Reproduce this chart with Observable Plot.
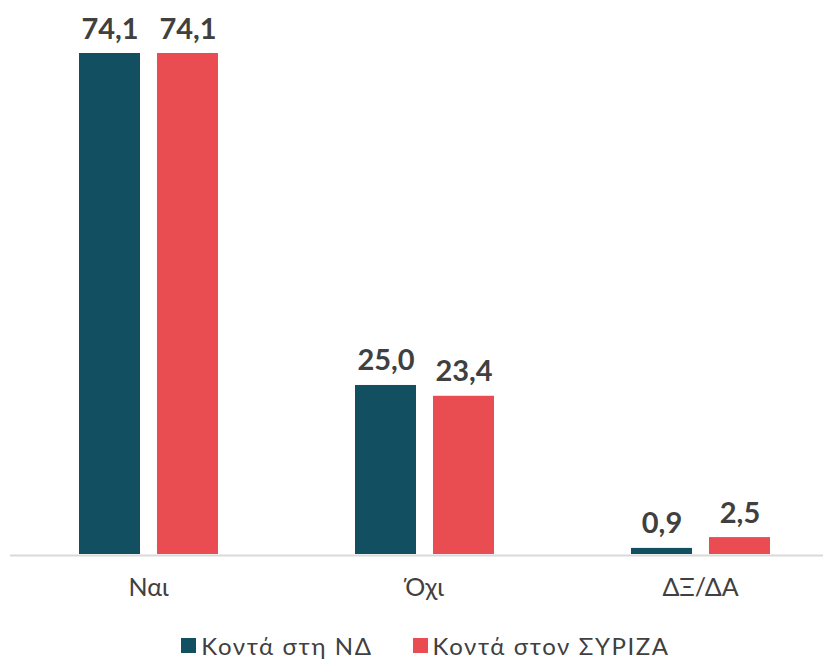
<!DOCTYPE html>
<html>
<head>
<meta charset="utf-8">
<script src="https://cdn.jsdelivr.net/npm/d3@7"></script>
<script src="https://cdn.jsdelivr.net/npm/@observablehq/plot@0.6"></script>
<style>
  body { margin: 0; background: #fff; font-family: Lato, "Open Sans", sans-serif; }
  #legend { display: flex; justify-content: center; align-items: center; gap: 40px; font-size: 24px; letter-spacing: 1.6px; color: #404040; padding-left: 28px; margin-top: 21px; }
  #legend span.item { display: flex; align-items: center; }
  #legend span.sw { display: inline-block; width: 15px; height: 15px; margin-right: 5px; }
</style>
</head>
<body>
<div id="chart"></div>
<div id="legend"></div>
<script>
const categories = ["Ναι", "Όχι", "ΔΞ/ΔΑ"];
const series = ["Κοντά στη ΝΔ", "Κοντά στον ΣΥΡΙΖΑ"];
const ndValues = [74.1, 25.0, 0.9];
const syrizaValues = [74.1, 23.4, 2.5];
const colors = ["#124F61", "#E94C51"];

const data = [];
categories.forEach((c, i) => {
  data.push({cat: c, party: series[0], value: ndValues[i]});
  data.push({cat: c, party: series[1], value: syrizaValues[i]});
});
const fmt = v => v.toFixed(1).replace(".", ",");

const chart = Plot.plot({
  width: 823,
  height: 610,
  marginBottom: 56,
  marginTop: 53,
  style: {fontFamily: "Lato, sans-serif", color: "#404040", background: "#fff"},
  fx: {domain: categories, range: [9.5, 837.5], padding: 0, label: null},
  x: {domain: series, paddingInner: 0.218, paddingOuter: 0.878, axis: null},
  y: {domain: [0, 74.1], axis: null},
  color: {domain: series, range: colors},
  marks: [
    Plot.ruleY([0], {stroke: "#D9D9D9", strokeWidth: 2, dy: 1}),
    Plot.barY(data, {fx: "cat", x: "party", y: "value", fill: "party"}),
    Plot.text(data, {fx: "cat", x: "party", y: "value", text: d => fmt(d.value), lineAnchor: "bottom", dy: -15, fontSize: 29, fontWeight: "bold", fill: "#404040"}),
    Plot.axisFx({anchor: "bottom", tickSize: 0, tickPadding: 24, fontSize: 25, label: null, color: "#404040"})
  ]
});
document.getElementById("chart").appendChild(chart);

const legend = document.getElementById("legend");
series.forEach((s, i) => {
  const item = document.createElement("span");
  item.className = "item";
  const sw = document.createElement("span");
  sw.className = "sw";
  sw.style.background = colors[i];
  item.appendChild(sw);
  item.appendChild(document.createTextNode(s));
  legend.appendChild(item);
});
</script>
</body>
</html>
